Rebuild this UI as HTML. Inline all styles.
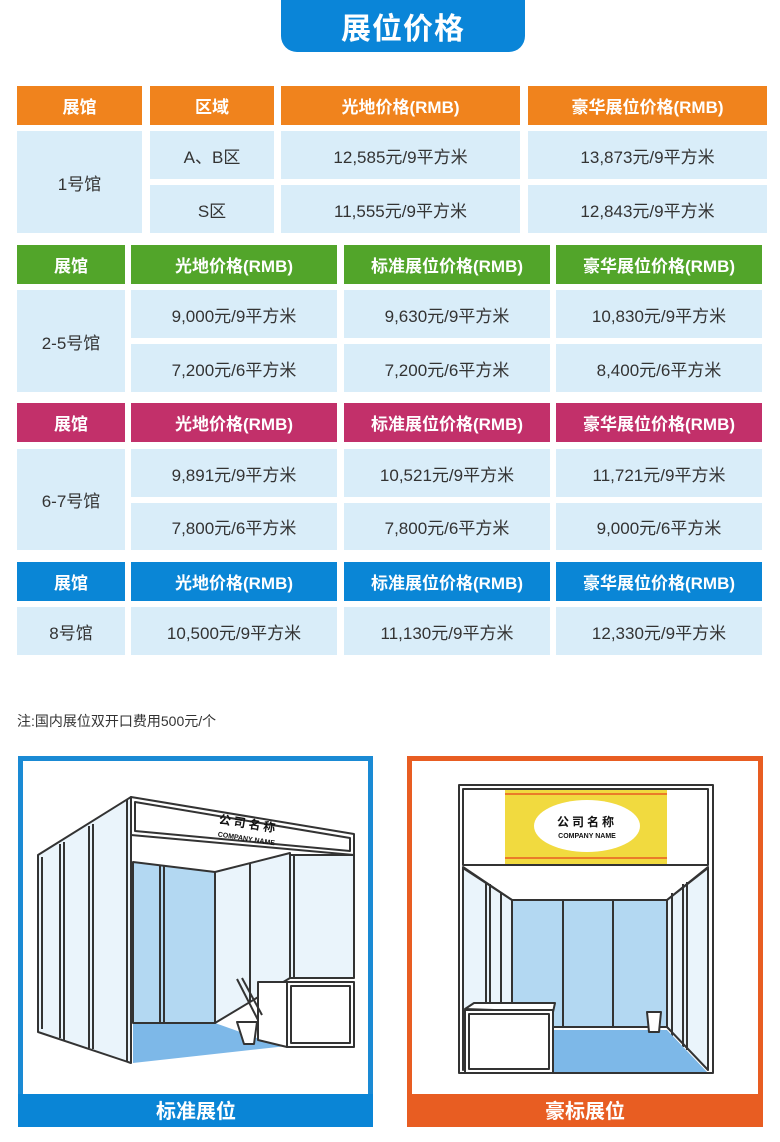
<!DOCTYPE html>
<html><head><meta charset="utf-8"><style>
*{margin:0;padding:0;box-sizing:border-box}
body{width:780px;height:1142px;background:#fff;position:relative;overflow:hidden;font-family:"Liberation Sans","Noto Sans CJK SC",sans-serif}
.c{position:absolute;display:flex;align-items:center;justify-content:center;font-size:17px;color:#333;background:#d9edf9}
.h{color:#fff;font-weight:bold;font-size:17px}
.o{background:#f0831d}.g{background:#52a52a}.m{background:#c2306a}.b{background:#0a86d6}
</style></head><body>
<div style="position:absolute;left:281px;top:0;width:244px;height:52px;background:#0a85d8;border-radius:0 0 16px 16px;color:#fff;font-weight:bold;font-size:30px;display:flex;align-items:center;justify-content:center;letter-spacing:1px">展位价格</div>

<!-- table 1 -->
<div class="c h o" style="left:17px;top:86px;width:125px;height:39px">展馆</div>
<div class="c h o" style="left:150px;top:86px;width:124px;height:39px">区域</div>
<div class="c h o" style="left:281px;top:86px;width:239px;height:39px">光地价格(RMB)</div>
<div class="c h o" style="left:528px;top:86px;width:239px;height:39px">豪华展位价格(RMB)</div>
<div class="c" style="left:17px;top:131px;width:125px;height:102px">1号馆</div>
<div class="c" style="left:150px;top:131px;width:124px;height:48px">A、B区</div>
<div class="c" style="left:281px;top:131px;width:239px;height:48px">12,585元/9平方米</div>
<div class="c" style="left:528px;top:131px;width:239px;height:48px">13,873元/9平方米</div>
<div class="c" style="left:150px;top:185px;width:124px;height:48px">S区</div>
<div class="c" style="left:281px;top:185px;width:239px;height:48px">11,555元/9平方米</div>
<div class="c" style="left:528px;top:185px;width:239px;height:48px">12,843元/9平方米</div>

<!-- table 2 -->
<div class="c h g" style="left:17px;top:245px;width:108px;height:39px">展馆</div>
<div class="c h g" style="left:131px;top:245px;width:206px;height:39px">光地价格(RMB)</div>
<div class="c h g" style="left:344px;top:245px;width:206px;height:39px">标准展位价格(RMB)</div>
<div class="c h g" style="left:556px;top:245px;width:206px;height:39px">豪华展位价格(RMB)</div>
<div class="c" style="left:17px;top:290px;width:108px;height:102px">2-5号馆</div>
<div class="c" style="left:131px;top:290px;width:206px;height:48px">9,000元/9平方米</div>
<div class="c" style="left:344px;top:290px;width:206px;height:48px">9,630元/9平方米</div>
<div class="c" style="left:556px;top:290px;width:206px;height:48px">10,830元/9平方米</div>
<div class="c" style="left:131px;top:344px;width:206px;height:48px">7,200元/6平方米</div>
<div class="c" style="left:344px;top:344px;width:206px;height:48px">7,200元/6平方米</div>
<div class="c" style="left:556px;top:344px;width:206px;height:48px">8,400元/6平方米</div>

<!-- table 3 -->
<div class="c h m" style="left:17px;top:403px;width:108px;height:39px">展馆</div>
<div class="c h m" style="left:131px;top:403px;width:206px;height:39px">光地价格(RMB)</div>
<div class="c h m" style="left:344px;top:403px;width:206px;height:39px">标准展位价格(RMB)</div>
<div class="c h m" style="left:556px;top:403px;width:206px;height:39px">豪华展位价格(RMB)</div>
<div class="c" style="left:17px;top:449px;width:108px;height:101px">6-7号馆</div>
<div class="c" style="left:131px;top:449px;width:206px;height:48px">9,891元/9平方米</div>
<div class="c" style="left:344px;top:449px;width:206px;height:48px">10,521元/9平方米</div>
<div class="c" style="left:556px;top:449px;width:206px;height:48px">11,721元/9平方米</div>
<div class="c" style="left:131px;top:503px;width:206px;height:47px">7,800元/6平方米</div>
<div class="c" style="left:344px;top:503px;width:206px;height:47px">7,800元/6平方米</div>
<div class="c" style="left:556px;top:503px;width:206px;height:47px">9,000元/6平方米</div>

<!-- table 4 -->
<div class="c h b" style="left:17px;top:562px;width:108px;height:39px">展馆</div>
<div class="c h b" style="left:131px;top:562px;width:206px;height:39px">光地价格(RMB)</div>
<div class="c h b" style="left:344px;top:562px;width:206px;height:39px">标准展位价格(RMB)</div>
<div class="c h b" style="left:556px;top:562px;width:206px;height:39px">豪华展位价格(RMB)</div>
<div class="c" style="left:17px;top:607px;width:108px;height:48px">8号馆</div>
<div class="c" style="left:131px;top:607px;width:206px;height:48px">10,500元/9平方米</div>
<div class="c" style="left:344px;top:607px;width:206px;height:48px">11,130元/9平方米</div>
<div class="c" style="left:556px;top:607px;width:206px;height:48px">12,330元/9平方米</div>

<div style="position:absolute;left:17px;top:711px;font-size:14px;color:#333">注:国内展位双开口费用500元/个</div>

<svg width="780" height="1142" style="position:absolute;left:0;top:0" xmlns="http://www.w3.org/2000/svg">
<!-- left panel -->
<rect x="20.5" y="758.5" width="350" height="366" fill="#fff" stroke="#1a8ad4" stroke-width="5"/>
<rect x="18" y="1094" width="355" height="33" fill="#0a85d6"/>
<text x="196" y="1118" text-anchor="middle" font-size="20" font-weight="bold" fill="#fff" font-family="Liberation Sans,Noto Sans CJK SC,sans-serif">标准展位</text>
<g stroke="#333" stroke-width="2" stroke-linejoin="round">
<polygon points="133,1023 215,1023 257,1038 287,1046 133,1063" fill="#7db8e8" stroke="none"/>
<polygon points="133,862 215,872 215,1023 133,1023" fill="#b3d8f2"/>
<line x1="160" y1="865" x2="160" y2="1023"/><line x1="164" y1="866" x2="164" y2="1023"/>
<polygon points="215,872 290,853 290,978 215,1023" fill="#eaf4fb"/>
<line x1="250" y1="864" x2="250" y2="1002"/>
<rect x="290" y="855" width="64" height="123" fill="#eaf4fb"/>
<line x1="294" y1="855" x2="294" y2="978"/>
<polygon points="38,855 131,797 131,1063 38,1032" fill="#eaf4fb"/>
<polyline points="42,857 42,1029" fill="none"/>
<line x1="60" y1="844" x2="60" y2="1038"/><line x1="64" y1="842" x2="64" y2="1040"/>
<line x1="89" y1="826" x2="89" y2="1048"/><line x1="93" y1="824" x2="93" y2="1049"/>
<line x1="127" y1="800" x2="127" y2="1061"/>
<polygon points="131,797 354,834 354,855 131,835" fill="#fff"/>
<polygon points="135,802 350,838 350,851 135,831" fill="none"/>
<polygon points="258,982 287,982 287,1047 258,1040" fill="#fff"/>
<rect x="287" y="982" width="67" height="65" fill="#fff"/>
<rect x="291" y="986" width="59" height="57" fill="none"/>
<line x1="237" y1="979" x2="258" y2="1020"/><line x1="242" y1="978" x2="262" y2="1015"/>
<polygon points="237,1022 257,1022 254,1044 244,1044" fill="#fff"/>
</g>
<g transform="rotate(9 248 828)" font-family="Liberation Sans,Noto Sans CJK SC,sans-serif" font-weight="bold" fill="#111" text-anchor="middle">
<text x="248" y="828" font-size="12" letter-spacing="3">公司名称</text>
<text x="248" y="841" font-size="7">COMPANY NAME</text>
</g>
<!-- right panel -->
<rect x="409.5" y="758.5" width="351" height="366" fill="#fff" stroke="#e85d22" stroke-width="5"/>
<rect x="407" y="1094" width="356" height="33" fill="#e85d22"/>
<text x="585" y="1118" text-anchor="middle" font-size="20" font-weight="bold" fill="#fff" font-family="Liberation Sans,Noto Sans CJK SC,sans-serif">豪标展位</text>
<g stroke="#333" stroke-width="2" stroke-linejoin="round">
<rect x="459" y="785" width="254" height="288" fill="#fff"/>
<polygon points="463,867 512,900 512,1027 463,1070" fill="#eaf4fb"/>
<polygon points="708,867 667,900 667,1027 708,1070" fill="#eaf4fb"/>
<line x1="486" y1="882" x2="486" y2="1050"/><line x1="490" y1="884" x2="490" y2="1047"/>
<line x1="501" y1="893" x2="501" y2="1037"/>
<line x1="687" y1="882" x2="687" y2="1050"/><line x1="683" y1="884" x2="683" y2="1047"/>
<line x1="672" y1="893" x2="672" y2="1037"/>
<rect x="512" y="900" width="155" height="127" fill="#b3d8f2"/>
<line x1="563" y1="900" x2="563" y2="1027"/><line x1="613" y1="900" x2="613" y2="1027"/>
<polygon points="512,1030 667,1030 707,1072 465,1072" fill="#7db8e8" stroke="none"/>
<line x1="463" y1="865" x2="708" y2="865"/>
<line x1="463" y1="868" x2="512" y2="900"/><line x1="708" y1="868" x2="667" y2="900"/>
<rect x="463" y="789" width="245" height="76" fill="none"/>
<polygon points="465,1009 474,1003 555,1003 553,1012" fill="#fff"/>
<rect x="465" y="1010" width="88" height="63" fill="#fff"/>
<rect x="469" y="1014" width="80" height="55" fill="none"/>
<polygon points="647,1012 661,1012 659,1032 649,1032" fill="#fff"/>
</g>
<rect x="505" y="790" width="162" height="74" fill="#f1da3f"/>
<line x1="505" y1="794" x2="667" y2="794" stroke="#e85d22" stroke-width="1.5"/>
<line x1="505" y1="858" x2="667" y2="858" stroke="#e85d22" stroke-width="1.5"/>
<ellipse cx="587" cy="826" rx="53" ry="26" fill="#fff"/>
<g font-family="Liberation Sans,Noto Sans CJK SC,sans-serif" font-weight="bold" fill="#111" text-anchor="middle">
<text x="587" y="826" font-size="12" letter-spacing="3">公司名称</text>
<text x="587" y="838" font-size="7">COMPANY NAME</text>
</g>
</svg>
</body></html>
